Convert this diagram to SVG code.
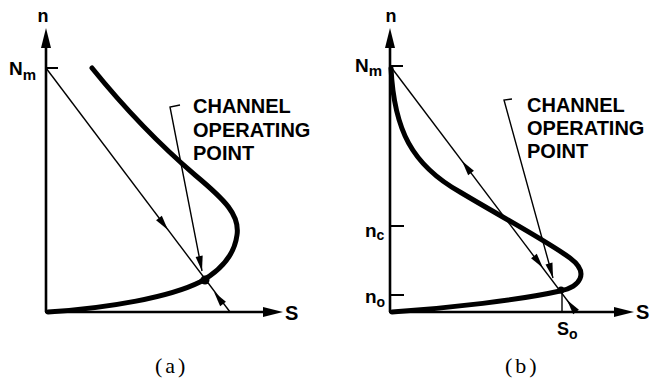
<svg xmlns="http://www.w3.org/2000/svg" xmlns:xlink="http://www.w3.org/1999/xlink" width="651" height="380" viewBox="0 0 651 380">
<style>
.axis{stroke:#000;stroke-width:2.6;fill:none}
.tick{stroke:#000;stroke-width:2;fill:none}
.curve{stroke:#000;stroke-width:5;fill:none;stroke-linecap:round;stroke-linejoin:round}
.thin{stroke:#000;stroke-width:1.4;fill:none}
.lbl{font-family:"Liberation Sans",Arial,sans-serif;font-weight:bold;fill:#000}
.call{font-family:"Liberation Sans",Arial,sans-serif;font-weight:bold;font-size:20px;fill:#000}
.cap{font-family:"Liberation Serif","Times New Roman",serif;font-size:22px;letter-spacing:3px;fill:#000}
</style>
<defs>
<path id="ah" d="M0,0 L-15,-3.6 L-15,3.6 Z" fill="#000"/>
<path id="bigah" d="M0,0 L-20,-5 L-20,5 Z" fill="#000"/>
</defs>

<g id="panel-a">
<g id="axes-a">
<line class="axis" x1="46" y1="312" x2="46" y2="40"/>
<use xlink:href="#bigah" transform="translate(46,28) rotate(-90)"/>
<line class="axis" x1="45" y1="312" x2="272" y2="312"/>
<use xlink:href="#bigah" transform="translate(283,312)"/>
<line class="tick" x1="46" y1="68" x2="58" y2="68"/>
<text class="lbl" x="43" y="22" font-size="18" text-anchor="middle">n</text>
<text class="lbl" x="285" y="320" font-size="20">S</text>
<text class="lbl" x="9" y="75" font-size="19">N<tspan font-size="15" dy="5">m</tspan></text>
</g>
<g id="curve-a">
<path class="curve" d="M92,68 C130,115 160,145 195,175 C225,200 240,215 237,235 C234,258 218,272 200,282 C170,297 110,308 48,312"/>
</g>
<g id="operating-point-a">
<circle cx="205" cy="280" r="4.5" fill="#000"/>
</g>
<g id="label-a">
<text class="call" x="193" y="113">CHANNEL</text>
<text class="call" x="193" y="137">OPERATING</text>
<text class="call" x="193" y="160">POINT</text>
</g>
<text id="caption-a" class="cap" x="155" y="373">(a)</text>
</g>

<g id="panel-b">
<g id="axes-b">
<line class="axis" x1="390" y1="312" x2="390" y2="40"/>
<use xlink:href="#bigah" transform="translate(390,28) rotate(-90)"/>
<line class="axis" x1="389" y1="312" x2="623" y2="312"/>
<use xlink:href="#bigah" transform="translate(634,312)"/>
<line class="tick" x1="390" y1="66" x2="403" y2="66"/>
<line class="tick" x1="390" y1="226" x2="404" y2="226"/>
<line class="tick" x1="390" y1="295" x2="404" y2="295"/>
<text class="lbl" x="391" y="22" font-size="18" text-anchor="middle">n</text>
<text class="lbl" x="636" y="319" font-size="20">S</text>
<text class="lbl" x="355" y="72" font-size="19">N<tspan font-size="15" dy="4">m</tspan></text>
<text class="lbl" x="365" y="237" font-size="19">n<tspan font-size="14" dy="3">c</tspan></text>
<text class="lbl" x="365" y="303" font-size="19">n<tspan font-size="14" dy="4">o</tspan></text>
<text class="lbl" x="557" y="335" font-size="18">S<tspan font-size="14" dy="4">o</tspan></text>
</g>
<g id="curve-b">
<path class="curve" d="M391,68 C394,130 412,165 460,192 C500,216 545,240 570,258 C590,273 580,287 560,291 C520,300 450,308 392,312"/>
</g>
<g id="operating-point-b">
<circle cx="561" cy="290" r="3.5" fill="#000"/>
</g>
<g id="label-b">
<text class="call" x="527" y="112">CHANNEL</text>
<text class="call" x="527" y="135">OPERATING</text>
<text class="call" x="527" y="158">POINT</text>
</g>
<text id="caption-b" class="cap" x="505" y="373">(b)</text>
</g>

<g id="connectors">
<line class="thin" x1="46" y1="68" x2="230" y2="312"/>
<use xlink:href="#ah" transform="translate(168,230) rotate(52.9)"/>
<use xlink:href="#ah" transform="translate(214,292) rotate(232.9)"/>
<polyline class="thin" points="180,105 170,107 202,271"/>
<use xlink:href="#ah" transform="translate(202,271) rotate(79)"/>

<line class="thin" x1="391" y1="67" x2="576" y2="312"/>
<use xlink:href="#ah" transform="translate(462,161) rotate(232.9)"/>
<use xlink:href="#ah" transform="translate(543,268) rotate(52.9)"/>
<use xlink:href="#ah" transform="translate(567,300) rotate(232.9)"/>
<polyline class="thin" points="512,99 504,100 553,278"/>
<use xlink:href="#ah" transform="translate(553,278) rotate(74.5)"/>
<line class="thin" x1="562" y1="290" x2="562" y2="312"/>
</g>
</svg>
